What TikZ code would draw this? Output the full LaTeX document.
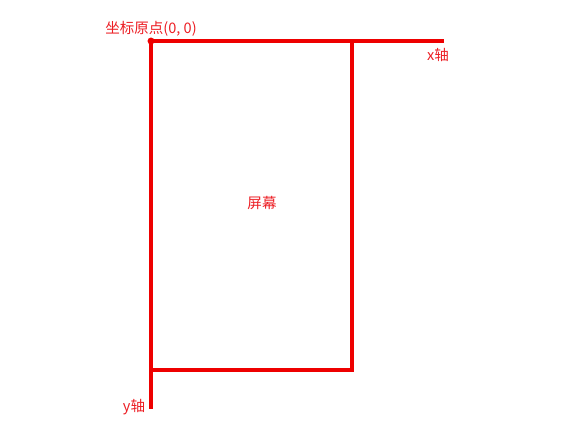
\documentclass[tikz,border=0pt]{standalone}
\usepackage{fontspec}
\usepackage{xcolor}
\usetikzlibrary{positioning,calc}
\newfontfamily\cjk{Noto Sans CJK SC}
\definecolor{AxisRed}{RGB}{238,0,0}
\definecolor{LabelRed}{RGB}{236,30,36}

\begin{document}
\begin{tikzpicture}[
  x=0.75pt, y=-0.75pt,
  font=\cjk\fontsize{10.9pt}{13pt}\selectfont,
  axis/.style={draw=AxisRed,line width=3pt},
  lbl/.style={text=LabelRed,inner sep=0pt}
]
\useasboundingbox (0,0) rectangle (577,433);
% corners of the screen and ends of the axes
\coordinate (origin) at (151,41);
\coordinate (xend) at (444,41);
\coordinate (yend) at (151,409);
\coordinate (topright) at (352,41);
\coordinate (botright) at (352,370);
\coordinate (botleft) at (151,370);
\draw[axis] (origin) -- (xend);
\draw[axis] (origin) -- (yend);
\draw[axis] (topright) -- (botright) -- (botleft);
\fill[AxisRed] (origin) circle (2.6pt);
\node[lbl] (olabel) at (151,29) {坐标原点(0, 0)};
\node[lbl] (xlabel) at (438,55) {x轴};
\node[lbl] (ylabel) at (134,407) {y轴};
\node[lbl] (screen) at (262,203) {屏幕};
\end{tikzpicture}
\end{document}
